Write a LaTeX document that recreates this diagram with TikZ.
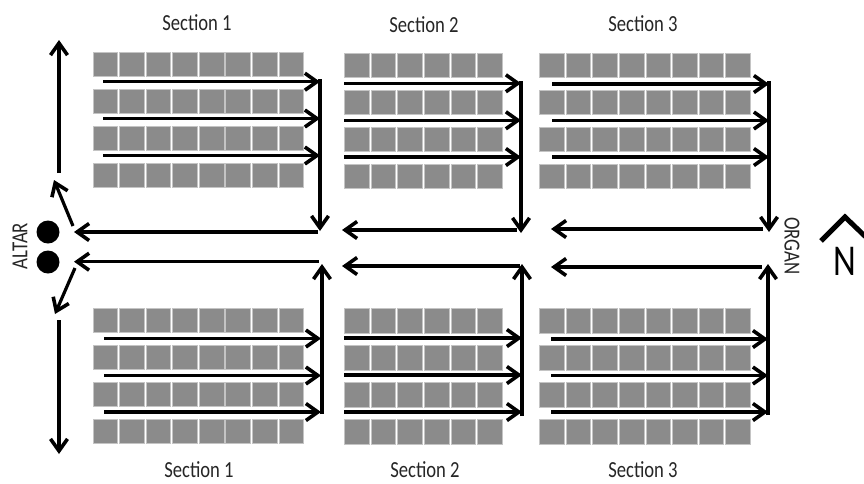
\documentclass[tikz,border=0pt]{standalone}
\usepackage{fontspec}
\setmainfont{Carlito}
\usetikzlibrary{arrows.meta}
\definecolor{seatgrey}{HTML}{8B8B8B}
\definecolor{seatedge}{HTML}{C4C4C4}
\tikzset{
  seat/.style={draw=seatedge,line width=0.5pt,fill=seatgrey,inner sep=0pt,minimum width=24.6pt,minimum height=24.8pt},
  flow/.style={line width=3.2pt,black,-{Straight Barb[length=12pt,width=17pt,line width=3.6pt]}},
  seclabel/.style={inner sep=0pt,text=black!85,font=\fontsize{23}{25}\selectfont},
  dot/.style={circle,fill=black,inner sep=0pt,minimum size=23pt},
}
\newcommand{\seatblock}[4]{% name prefix, x, y, number of seats
  \foreach \r in {0,1,2,3}{
    \foreach \c in {1,...,#4}{
      \pgfmathsetmacro{\xx}{#2+26.55*(\c-1)}
      \pgfmathsetmacro{\yy}{#3+37*\r}
      \node[seat,anchor=north west] (#1r\r c\c) at (\xx,\yy) {};
    }
  }
}
\begin{document}
\begin{tikzpicture}[x=1pt,y=-1pt]
\useasboundingbox (0,0) rectangle (864,483);
\fill[white] (0,0) rectangle (864,483);
% seats
\seatblock{at}{92.7}{51.6}{8}
\seatblock{ab}{92.7}{307.6}{8}
\seatblock{bt}{344.3}{52.6}{6}
\seatblock{bb}{344.3}{308}{6}
\seatblock{ct}{539.3}{52.6}{8}
\seatblock{cb}{539.3}{308.3}{8}
% labels
\node[seclabel] (l1) at (197,23) {\scalebox{0.81}[1]{Section 1}};
\node[seclabel] (l2) at (424,25) {\scalebox{0.81}[1]{Section 2}};
\node[seclabel] (l3) at (643,24) {\scalebox{0.81}[1]{Section 3}};
\node[seclabel] (l4) at (199,470) {\scalebox{0.81}[1]{Section 1}};
\node[seclabel] (l5) at (425,470) {\scalebox{0.81}[1]{Section 2}};
\node[seclabel] (l6) at (643,470) {\scalebox{0.81}[1]{Section 3}};
\node[seclabel,rotate=90] (altar) at (20,246) {\scalebox{0.82}[1]{ALTAR}};
\node[seclabel,rotate=-90] (organ) at (792,246) {\scalebox{0.82}[1]{ORGAN}};
\node[inner sep=0pt,font=\fontsize{44}{46}\selectfont] (north) at (845,261) {\scalebox{0.8}[1]{N}};
\coordinate (nl) at (821,241); \coordinate (nt) at (845,217); \coordinate (nr) at (870,241);
\draw[line width=5pt,miter limit=10] (nl) -- (nt) -- (nr);
% dots
\node[dot] (d1) at (48,232) {};
\node[dot] (d2) at (48,262) {};
% connector end points
\foreach \n/\x/\y in {
  a1s/103/81.7, a1e/320/81.7, a2s/103/118.5, a2e/320/118.5, a3s/103/155.5, a3e/320/155.5,
  avs/320/79, ave/320/231, ahs/318/232, ahe/74/232,
  dus/73/226, due/54/180, ups/59/173, upe/59/40,
  b1s/104/338.5, b1e/321/338.5, b2s/104/375.5, b2e/321/375.5, b3s/104/412, b3e/321/412,
  bvs/322/414, bve/322/264, bhs/319/261.7, bhe/74/261.7,
  dds/75/268, dde/55/314, dns/59/320, dne/59/454,
  c1s/344/83.3, c1e/521/83.3, c2s/344/120.3, c2e/521/120.3, c3s/344/157, c3e/521/157,
  cvs/521/81, cve/521/233, chs/517/230, che/342/230,
  e1s/344/338, e1e/522/338, e2s/344/375, e2e/522/375, e3s/344/412, e3e/522/412,
  evs/522/416, eve/522/264, ehs/520/266, ehe/342/266,
  f1s/552/84, f1e/769/84, f2s/552/120.5, f2e/769/120.5, f3s/552/157, f3e/769/157,
  fvs/769/81, fve/769/232, fhs/763/229, fhe/551/229,
  g1s/551/339, g1e/768/339, g2s/551/375.5, g2e/768/375.5, g3s/551/412, g3e/768/412,
  gvs/768/415, gve/768/264, ghs/762/267, ghe/551/267}
  {\coordinate (\n) at (\x,\y);}
% connectors
\draw[flow] (a1s) -- (a1e); \draw[flow] (a2s) -- (a2e); \draw[flow] (a3s) -- (a3e);
\draw[flow] (b1s) -- (b1e); \draw[flow] (b2s) -- (b2e); \draw[flow] (b3s) -- (b3e);
\draw[flow] (c1s) -- (c1e); \draw[flow] (c2s) -- (c2e); \draw[flow] (c3s) -- (c3e);
\draw[flow] (e1s) -- (e1e); \draw[flow] (e2s) -- (e2e); \draw[flow] (e3s) -- (e3e);
\draw[flow] (f1s) -- (f1e); \draw[flow] (f2s) -- (f2e); \draw[flow] (f3s) -- (f3e);
\draw[flow] (g1s) -- (g1e); \draw[flow] (g2s) -- (g2e); \draw[flow] (g3s) -- (g3e);
\draw[flow] (avs) -- (ave); \draw[flow] (ahs) -- (ahe);
\draw[flow] (bvs) -- (bve); \draw[flow] (bhs) -- (bhe);
\draw[flow] (cvs) -- (cve); \draw[flow] (chs) -- (che);
\draw[flow] (evs) -- (eve); \draw[flow] (ehs) -- (ehe);
\draw[flow] (fvs) -- (fve); \draw[flow] (fhs) -- (fhe);
\draw[flow] (gvs) -- (gve); \draw[flow] (ghs) -- (ghe);
\draw[flow] (ups) -- (upe); \draw[flow] (dns) -- (dne);
\draw[flow] (dus) -- (due); \draw[flow] (dds) -- (dde);
\end{tikzpicture}
\end{document}
